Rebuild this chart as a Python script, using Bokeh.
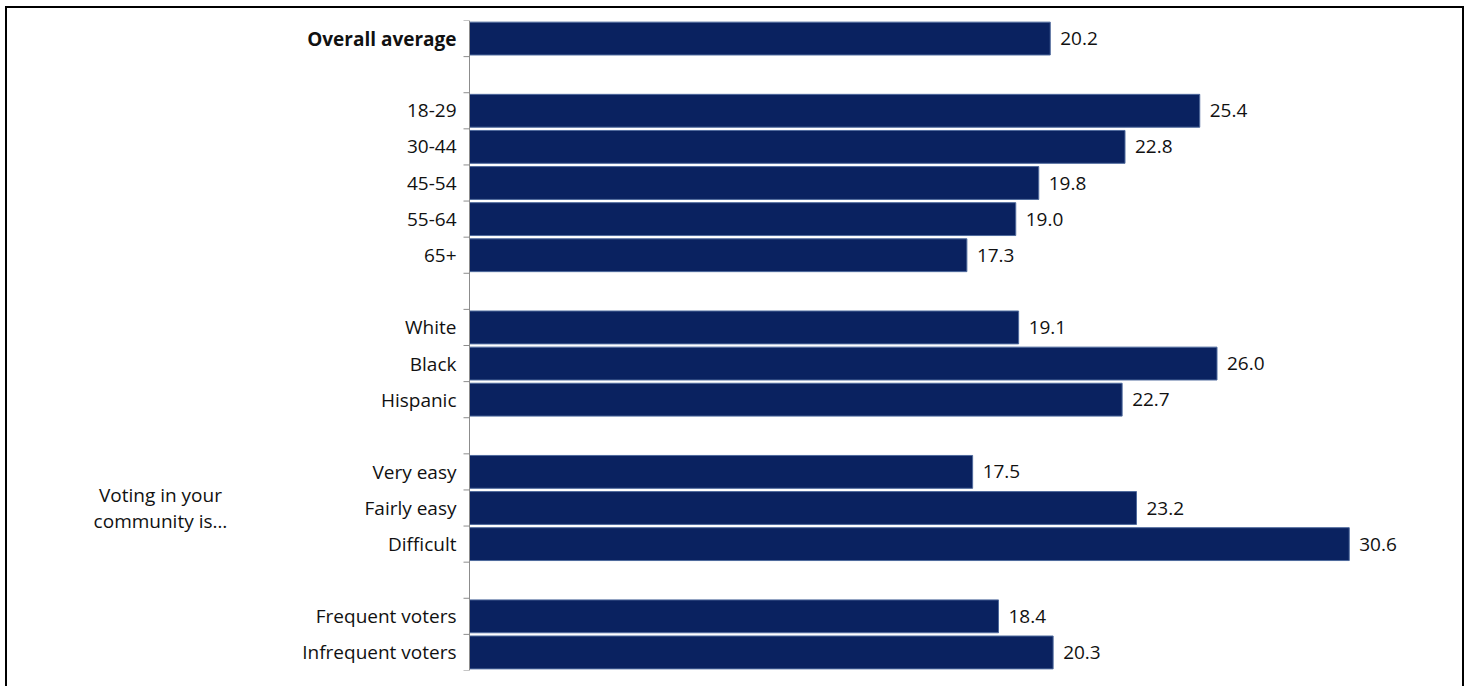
import numpy as np
from bokeh.plotting import figure
from bokeh.models import ColumnDataSource, Range1d, Span
from bokeh.core.properties import value
from bokeh.embed import file_html
from bokeh.resources import INLINE

labels = ["Overall average", "18-29", "30-44", "45-54", "55-64", "65+",
          "White", "Black", "Hispanic",
          "Very easy", "Fairly easy", "Difficult",
          "Frequent voters", "Infrequent voters"]
values = [20.2, 25.4, 22.8, 19.8, 19.0, 17.3,
          19.1, 26.0, 22.7,
          17.5, 23.2, 30.6,
          18.4, 20.3]
group_sizes = [1, 5, 3, 3, 2]
bold_rows = ["Overall average"]
group_note = "Voting in your\ncommunity is…"
note_row = "Fairly easy"

FONT = "Open Sans"
FS = "19px"
TXT = "#111111"
GRAY = "#8C8C8C"

# slot positions with one blank slot between groups
positions = []
s = 0
for g in group_sizes:
    for _ in range(g):
        positions.append(s)
        s += 1
    s += 1
n_slots = positions[-1] + 1
boundaries = [k - 0.5 for k in range(n_slots + 1)]

src = ColumnDataSource(dict(
    y=positions, v=values, lab=labels,
    t=[f"{v:.1f}" for v in values],
    style=["bold" if l in bold_rows else "normal" for l in labels]))

PX = 28.75  # pixels per unit
p = figure(width=1459, height=680, output_backend="svg", toolbar_location=None,
           x_range=Range1d(-462 / PX, (1439 - 462) / PX),
           y_range=Range1d(n_slots - 0.5, -0.5),
           min_border_left=0, min_border_right=20,
           min_border_top=12, min_border_bottom=18)
p.styles = {"margin-left": "5px", "margin-top": "6px",
            "border-left": "2px solid black", "border-top": "2px solid black",
            "border-right": "2px solid black"}
p.outline_line_color = None
p.xgrid.visible = False
p.ygrid.visible = False
p.xaxis.visible = False
p.yaxis.visible = False

p.hbar(y="y", left=0, right="v", height=0.91, source=src,
       fill_color="#0A2260", line_color="#4F6A9C", line_width=1)

# category axis: line, boundary ticks, labels
p.add_layout(Span(location=0, dimension="height", line_color=GRAY, line_width=1))
p.ray(x=0, y=boundaries, length=6, length_units="screen", angle=np.pi,
      line_color=GRAY, line_width=1)
p.text(x=0, y="y", text="lab", source=src, x_offset=-13,
       text_align="right", text_baseline="middle", text_font_style="style",
       text_font=value(FONT), text_font_size=FS, text_color=TXT)

# value labels
p.text(x="v", y="y", text="t", source=src, x_offset=10,
       text_baseline="middle", text_align="left",
       text_font=value(FONT), text_font_size=FS, text_color=TXT)

# group note
p.text(x=[-10.75], y=[positions[labels.index(note_row)]], text=[group_note],
       text_align="center", text_baseline="middle", text_line_height=1.0,
       text_font=value(FONT), text_font_size=FS, text_color=TXT)

open("out.html", "w").write(file_html(p, INLINE))
